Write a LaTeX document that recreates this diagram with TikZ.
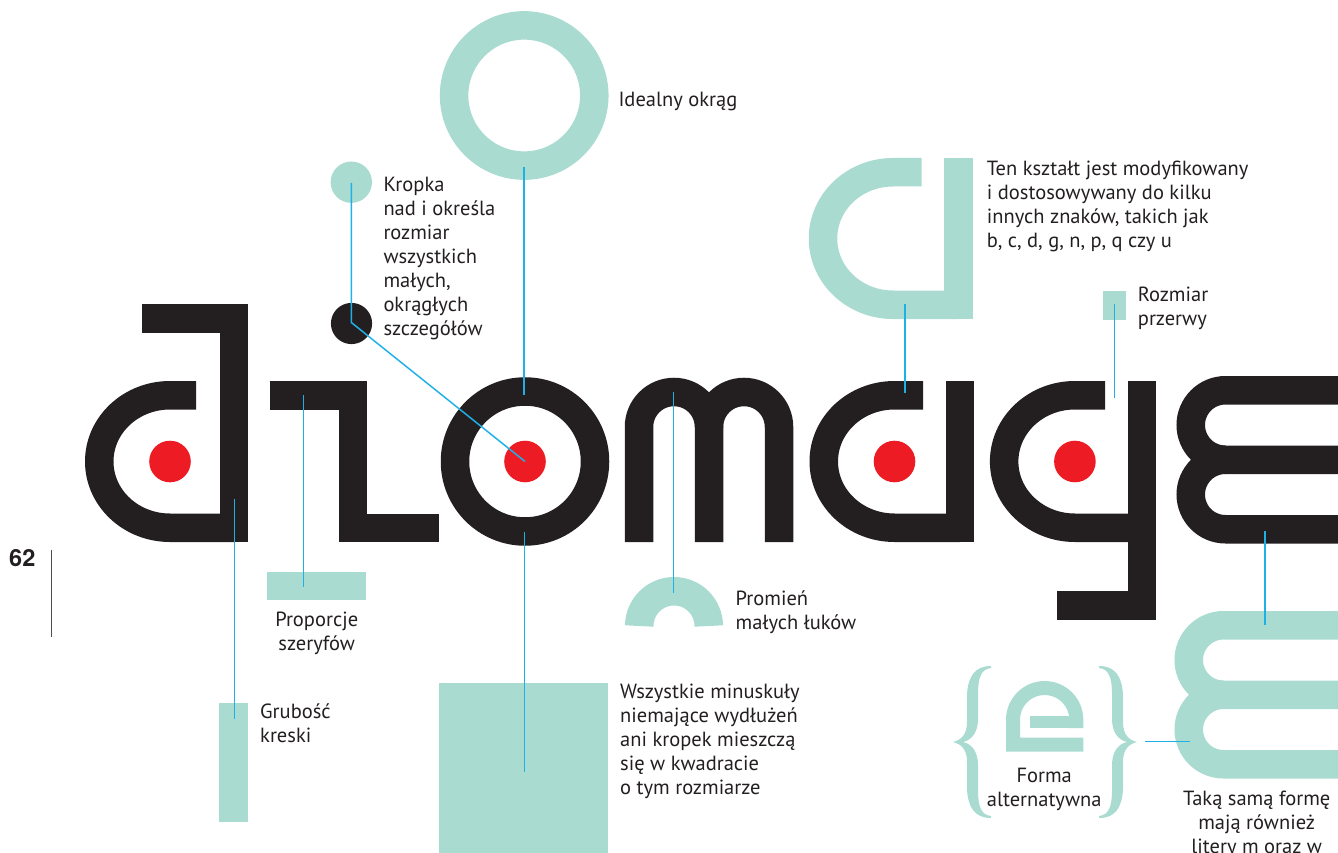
\documentclass[tikz,border=0pt]{standalone}
\usepackage{fontspec}
\setmainfont{PT Sans}
\newfontfamily\seitenfont{TeX Gyre Heros}
\definecolor{minze}{HTML}{A9DBD1}
\definecolor{tinte}{HTML}{231F20}
\definecolor{rot}{HTML}{ED1C24}
\definecolor{linie}{HTML}{1FB1E6}
\newcommand{\notizfont}{\fontsize{20.5}{24}\selectfont}
\tikzset{strich/.style={line width=28.5pt, line cap=butt, line join=miter},
  schwarz/.style={strich, draw=tinte}, hell/.style={strich, draw=minze},
  zeiger/.style={draw=linie, line width=1.5pt},
  notiz/.style={anchor=north west, align=left, inner sep=0pt, text=tinte, font=\notizfont},
  notizmitte/.style={notiz, anchor=north, align=center}}

\begin{document}
\begin{tikzpicture}[x=1pt, y=-1pt]
	\useasboundingbox (0,0) rectangle (1338,853);
	%Seite
	\node[anchor=base west, inner sep=0pt, text=tinte, font=\seitenfont\fontsize{23.5}{28}\selectfont\bfseries] (seite) at (9,566.7) {62};
	\draw[tinte!80, line width=1.2pt] (51.3,550) -- (51.3,637.3);
	%Vorlagen
	\draw[hell] (524.2,95.5) circle[radius=70.1];
	\fill[minze] (351.3,182.2) circle[radius=20.7];
	\draw[hell] (921.5,172.25) -- (893,172.25) arc[start angle=270, end angle=90, x radius=70, y radius=66.25] -- (958.7,304.75);
	\draw[hell] (958.7,158) -- (958.7,319);
	\fill[minze] (1103,290.7) rectangle (1126,320);
	\fill[minze] (267,572) rectangle (366,600);
	\fill[minze] (219,703) rectangle (248,822);
	\fill[minze] (439,683.3) rectangle (607.7,853);
	\draw[hell] (639.25,626) arc[start angle=180, end angle=360, radius=34.75];
	\draw[hell] (1345,625.25) -- (1223.5,625.25) arc[start angle=270, end angle=90, radius=34.75] -- (1345,694.75);
	\draw[hell] (1223.5,694.75) arc[start angle=270, end angle=90, radius=34.75] -- (1345,764.25);
	%Klammern
	\draw[minze, line width=14pt, line join=miter] (1083.3,744.7) -- (1013,744.7) -- (1013,719.7) arc[start angle=180, end angle=360, radius=31.65] -- (1076.3,728);
	\fill[minze] (1030,716) rectangle (1083.3,727.7);
	\fill[minze] (991,666) .. controls (975,666) and (968,676) .. (967,695) -- (967,722) .. controls (967,735) and (961,740) .. (953,742) .. controls (961,744) and (967,749) .. (967,762) -- (967,789) .. controls (968,808) and (975,818) .. (991,818) -- (991,816) .. controls (981,815) and (978,806) .. (978,790) -- (978,765) .. controls (978,752) and (972,744) .. (963,742) .. controls (972,740) and (978,732) .. (978,719) -- (978,694) .. controls (978,678) and (981,669) .. (991,668) -- cycle;
	\fill[minze] (1099,666) .. controls (1115,666) and (1122,676) .. (1123,695) -- (1123,722) .. controls (1123,735) and (1129,740) .. (1137,742) .. controls (1129,744) and (1123,749) .. (1123,762) -- (1123,789) .. controls (1122,808) and (1115,818) .. (1099,818) -- (1099,816) .. controls (1109,815) and (1112,806) .. (1112,790) -- (1112,765) .. controls (1112,752) and (1118,744) .. (1127,742) .. controls (1118,740) and (1112,732) .. (1112,719) -- (1112,694) .. controls (1112,678) and (1109,669) .. (1099,668) -- cycle;
	%Glyphen
	\draw[schwarz] (141.7,318.25) -- (233.75,318.25) -- (233.75,542);
	\draw[schwarz] (196,395.25) -- (170,395.25) arc[start angle=270, end angle=90, x radius=70.75, y radius=66.25] -- (233.75,527.75);
	\draw[schwarz] (269.7,395.25) -- (353.1,395.25) -- (353.1,528) -- (439,528);
	\draw[schwarz] (525,461.5) circle[radius=70];
	\draw[schwarz] (639,542) -- (639,427) arc[start angle=180, end angle=360, radius=35] -- (709,542);
	\draw[schwarz] (709,427) arc[start angle=180, end angle=360, radius=35] -- (779,542);
	\draw[schwarz] (923,395.25) -- (894.5,395.25) arc[start angle=270, end angle=90, x radius=70.75, y radius=66.25] -- (960.2,527.75);
	\draw[schwarz] (960.2,381) -- (960.2,542);
	\draw[schwarz] (1105.2,395.25) -- (1074.9,395.25) arc[start angle=270, end angle=90, x radius=70.75, y radius=66.25] -- (1141.85,527.75);
	\draw[schwarz] (1141.85,381) -- (1141.85,605.5) -- (1057.4,605.5);
	\draw[schwarz] (1345,390.25) -- (1225.5,390.25) arc[start angle=270, end angle=90, radius=34.75] -- (1345,459.75);
	\draw[schwarz] (1225.5,459.75) arc[start angle=270, end angle=90, radius=34.75] -- (1345,529.25);
	\fill[tinte] (351.5,323.5) circle[radius=20.6];
	\foreach \x in {170,525,894.5,1074.9}
		\fill[rot] (\x,461.5) circle[radius=20.8];
	%Texte
	\node[notiz] (idealny) at (618.3,89.2) {\strut Idealny okrąg};
	\node[notiz] (kropka) at (383.3,174.9) {\strut Kropka\\nad i określa\\rozmiar\\wszystkich\\małych,\\okrągłych\\szczegółów};
	\node[notiz] (ksztalt) at (986.7,158.9) {\strut Ten kształt jest modyfikowany\\i dostosowywany do kilku\\innych znaków, takich jak\\b, c, d, g, n, p, q czy u};
	\node[notiz] (przerwa) at (1137.7,284.2) {\strut Rozmiar\\przerwy};
	\node[notizmitte] (proporcje) at (316.7,609.2) {\strut Proporcje\\szeryfów};
	\node[notiz] (promien) at (735.5,588.2) {\strut Promień\\małych łuków};
	\node[notiz] (grubosc) at (260,701.5) {\strut Grubość\\kreski};
	\node[notiz] (minuskuly) at (620,681.5) {\strut Wszystkie minuskuły\\niemające wydłużeń\\ani kropek mieszczą\\się w kwadracie\\o tym rozmiarze};
	\node[notizmitte] (forma) at (1044.2,765.5) {\strut Forma\\alternatywna};
	\node[notizmitte] (taka) at (1256.7,788.9) {\strut Taką samą formę\\mają również\\litery m oraz w};
	%Zeiger
	\coordinate (kreis) at (524,167);
	\coordinate (o-oben) at (524,395);
	\coordinate (punkt) at (351.3,183);
	\coordinate (punkt-s) at (351.3,322.5);
	\coordinate (o-mitte) at (525,461.5);
	\coordinate (serif-o) at (303.5,395);
	\coordinate (serif-u) at (303.5,587);
	\coordinate (stamm) at (234.3,498.5);
	\coordinate (balken) at (234.3,719);
	\coordinate (o-unten) at (524.3,532);
	\coordinate (quadrat) at (524.3,772);
	\coordinate (m-oben) at (673.5,392);
	\coordinate (bogen) at (673.5,593.3);
	\coordinate (form) at (905,304);
	\coordinate (a-oben) at (905,393.3);
	\coordinate (luecke) at (1114.5,304);
	\coordinate (q-oben) at (1114.5,397.5);
	\coordinate (e-unten) at (1265,531);
	\coordinate (e-hell) at (1265,625);
	\coordinate (klammer) at (1145,741.7);
	\coordinate (e-links) at (1190,741.7);
	\draw[zeiger] (kreis) -- (o-oben);
	\draw[zeiger] (punkt) -- (punkt-s) -- (o-mitte);
	\draw[zeiger] (serif-o) -- (serif-u);
	\draw[zeiger] (stamm) -- (balken);
	\draw[zeiger] (o-unten) -- (quadrat);
	\draw[zeiger] (m-oben) -- (bogen);
	\draw[zeiger] (form) -- (a-oben);
	\draw[zeiger] (luecke) -- (q-oben);
	\draw[zeiger] (e-unten) -- (e-hell);
	\draw[zeiger] (klammer) -- (e-links);
\end{tikzpicture}
\end{document}
